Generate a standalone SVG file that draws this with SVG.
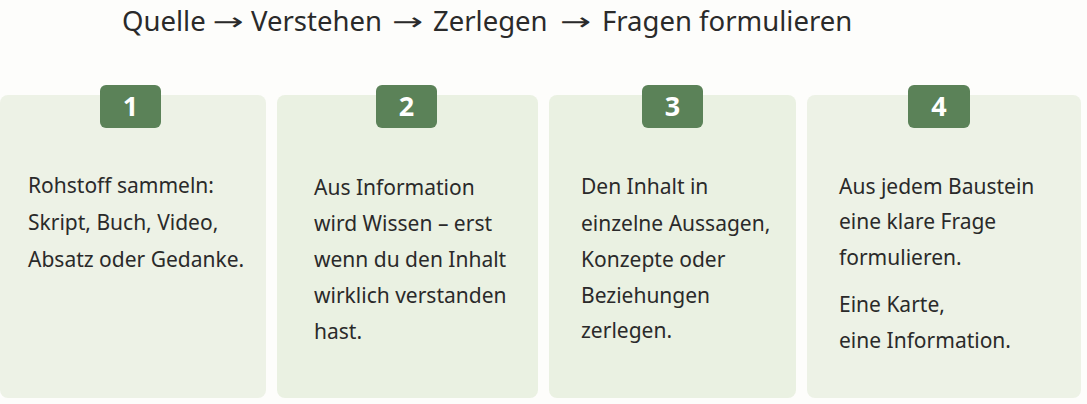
<svg xmlns="http://www.w3.org/2000/svg" width="1087" height="404" viewBox="0 0 1087 404">
<style>
.card{fill:#edf2e6;}
.card2{fill:#eaf1e2;}
.badge{fill:#5b8258;}
.num{font-family:"Noto Sans","Open Sans",sans-serif;font-size:27px;font-weight:700;fill:#ffffff;text-anchor:middle;}
.body{font-family:"Noto Sans","Open Sans",sans-serif;font-size:21px;fill:#2a2a2a;}
.title{font-family:"Noto Sans","Open Sans",sans-serif;font-size:27.5px;fill:#2a2a2a;}
.arr{font-family:"DejaVu Sans",sans-serif;font-size:24px;fill:#2a2a2a;text-anchor:middle;}
</style>
<rect width="1087" height="404" fill="#fdfdfb"/>
<g id="title">
<text class="title" x="122" y="31">Quelle</text>
<text class="arr" transform="translate(228,30) scale(1.55,1)">→</text>
<text class="title" x="251" y="31">Verstehen</text>
<text class="arr" transform="translate(407.5,30) scale(1.55,1)">→</text>
<text class="title" x="433" y="31">Zerlegen</text>
<text class="arr" transform="translate(575.5,30) scale(1.55,1)">→</text>
<text class="title" x="602" y="31">Fragen formulieren</text>
</g>
<g id="step1">
<rect class="card" x="0" y="95" width="266" height="303" rx="8"/>
<rect class="badge" x="100" y="85" width="61" height="43" rx="6"/>
<text class="num" x="130.5" y="116">1</text>
<text class="body" x="28" y="193">Rohstoff sammeln:</text>
<text class="body" x="28" y="230">Skript, Buch, Video,</text>
<text class="body" x="28" y="267">Absatz oder Gedanke.</text>
</g>
<g id="step2">
<rect class="card2" x="277" y="95" width="261" height="303" rx="8"/>
<rect class="badge" x="376" y="85" width="61" height="43" rx="6"/>
<text class="num" x="406.5" y="116">2</text>
<text class="body" x="314" y="195">Aus Information</text>
<text class="body" x="314" y="231">wird Wissen – erst</text>
<text class="body" x="314" y="267">wenn du den Inhalt</text>
<text class="body" x="314" y="303">wirklich verstanden</text>
<text class="body" x="314" y="339">hast.</text>
</g>
<g id="step3">
<rect class="card2" x="549" y="95" width="247" height="303" rx="8"/>
<rect class="badge" x="642" y="85" width="61" height="43" rx="6"/>
<text class="num" x="672.5" y="116">3</text>
<text class="body" x="581" y="194">Den Inhalt in</text>
<text class="body" x="581" y="231">einzelne Aussagen,</text>
<text class="body" x="581" y="267">Konzepte oder</text>
<text class="body" x="581" y="303">Beziehungen</text>
<text class="body" x="581" y="338">zerlegen.</text>
</g>
<g id="step4">
<rect class="card" x="807" y="95" width="274" height="303" rx="8"/>
<rect class="badge" x="908" y="85" width="62" height="43" rx="6"/>
<text class="num" x="939" y="116">4</text>
<text class="body" x="839" y="194">Aus jedem Baustein</text>
<text class="body" x="839" y="229">eine klare Frage</text>
<text class="body" x="839" y="265">formulieren.</text>
<text class="body" x="839" y="312">Eine Karte,</text>
<text class="body" x="839" y="348">eine Information.</text>
</g>
<g id="connectors"></g>
</svg>
